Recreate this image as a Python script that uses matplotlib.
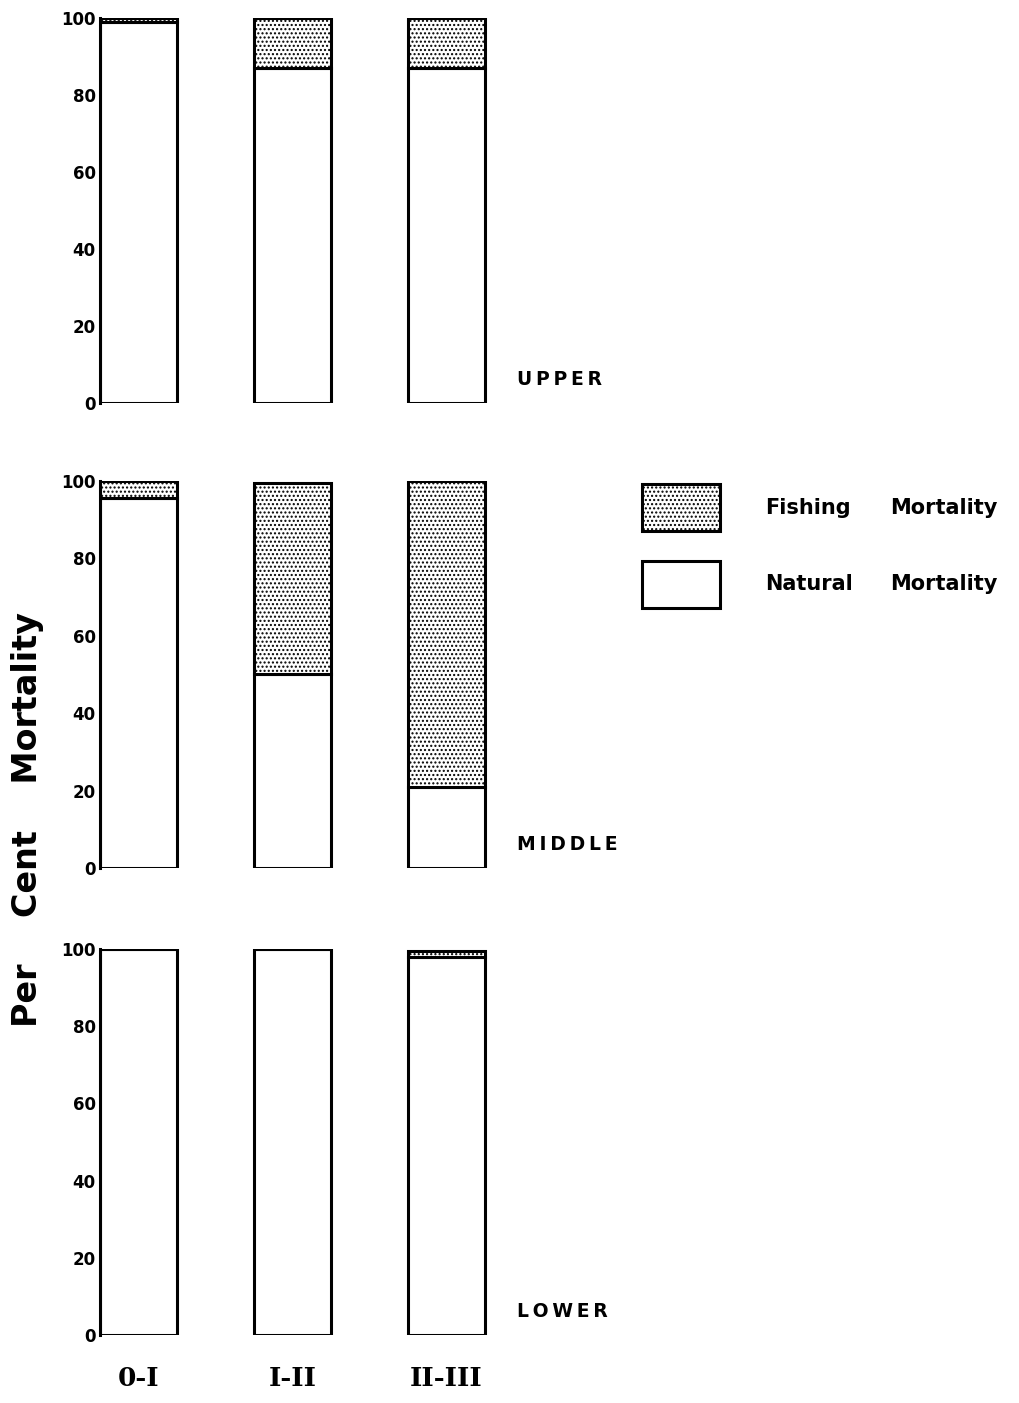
import numpy as np
import matplotlib
matplotlib.use('Agg')
import matplotlib.pyplot as plt
from matplotlib.patches import Rectangle

# age intervals and depth zones
categories = ['0-I', 'I-II', 'II-III']
zones = ['UPPER', 'MIDDLE', 'LOWER']

# per cent of total mortality
natural = {
    'UPPER':  [99, 87, 87],
    'MIDDLE': [95.5, 50, 21],
    'LOWER':  [100, 100, 98],
}
fishing = {
    'UPPER':  [1, 13, 13],
    'MIDDLE': [4.5, 49.5, 79],
    'LOWER':  [0, 0, 1.5],
}
yticks = [0, 20, 40, 60, 80, 100]

plt.rcParams['hatch.linewidth'] = 1.0
W, H = 1020, 1403
fig = plt.figure(figsize=(W / 100, H / 100), dpi=100)

# pixel extents (top, bottom) of each panel's y axis
panel_px = [(18, 403), (481, 868), (949, 1335)]
left_px, unit_px = 100, 154
xlim = (-0.25, 3.5)
ax_w = (xlim[1] - xlim[0]) * unit_px

x = np.arange(len(categories))
tick_font = dict(fontsize=12, fontweight='bold', family='DejaVu Sans')

axes = []
for zone, (top, bot) in zip(zones, panel_px):
    ax = fig.add_axes([left_px / W, 1 - bot / H, ax_w / W, (bot - top) / H])
    nat = np.array(natural[zone])
    fis = np.array(fishing[zone])
    ax.bar(x, nat, width=0.5, color='white', edgecolor='black', linewidth=2.2)
    ax.bar(x, fis, bottom=nat, width=0.5, color='white', edgecolor='black',
           linewidth=2.2, hatch='....')
    ax.set_xlim(*xlim)
    ax.set_ylim(0, 100)
    for s in ['top', 'right', 'bottom']:
        ax.spines[s].set_visible(False)
    ax.spines['left'].set_linewidth(2.2)
    ax.set_yticks(yticks)
    ax.set_yticklabels([str(t) for t in yticks], **tick_font)
    ax.tick_params(axis='y', length=0, pad=3)
    ax.set_xticks([])
    ax.text(2.46, 6, ' '.join(zone).replace(' ', '\u2009'), fontsize=13.5,
            fontweight='bold', va='center', ha='left')
    axes.append(ax)

axes[-1].set_xticks(x)
axes[-1].set_xticklabels(categories, fontsize=19, fontweight='bold', family='DejaVu Serif')
axes[-1].tick_params(axis='x', length=0, pad=22)

fig.text(28 / W, 1 - 820 / H, 'Per    Cent    Mortality', rotation=90, fontsize=24,
         fontweight='bold', ha='center', va='center')

# legend
leg = [((484, 531), '....', 'Fishing'),
       ((561, 608), None, 'Natural')]
for (t, b), hatch, label in leg:
    fig.add_artist(Rectangle((642 / W, 1 - b / H), 78 / W, (b - t) / H,
                             transform=fig.transFigure, facecolor='white',
                             edgecolor='black', linewidth=2.2, hatch=hatch))
    yc = 1 - (t + b) / 2 / H
    fig.text(765 / W, yc, label, fontsize=15, fontweight='bold', va='center', ha='left')
    fig.text(890 / W, yc, 'Mortality', fontsize=15, fontweight='bold', va='center', ha='left')

fig.savefig('out.png', dpi=100, facecolor='white')
